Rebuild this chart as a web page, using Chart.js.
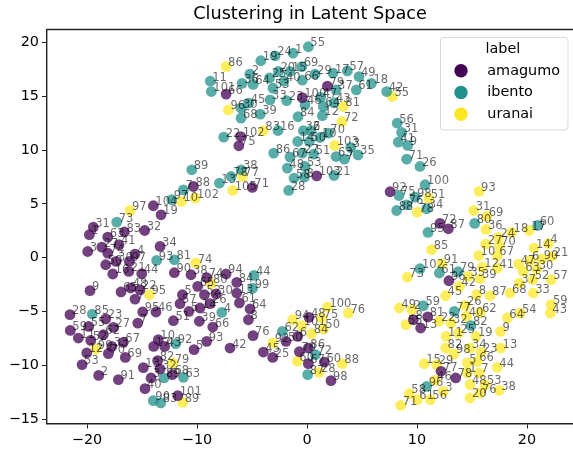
<!DOCTYPE html>
<html>
<head>
<meta charset="utf-8">
<title>Clustering in Latent Space</title>
<script src="https://cdn.jsdelivr.net/npm/chart.js@4"></script>
<style>
  html, body { margin: 0; padding: 0; background: #fff; }
  canvas { display: block; }
</style>
</head>
<body>
<canvas id="latent-chart" width="573" height="453"></canvas>
<script>
// ===== Data (x, y, annotation) =====
const seriesNames = ["amagumo", "ibento", "uranai"];
const seriesColors = ["#440154", "#21918c", "#fde725"];
const xTicks = [-20, -10, 0, 10, 20];
const yTicks = [-15, -10, -5, 0, 5, 10, 15, 20];

const amagumo = [
  [1.85,15.94,79],[-7.36,15.2,66],[-0.43,14.88,100],[-6.03,11.26,102],[-6.2,10.4,75],
  [0.88,7.6,103],[-4.97,6.53,71],[-10.33,6.62,88],[-13.97,4.83,104],[-13.27,3.99,19],
  [7.55,6.13,92],[12.09,3.19,72],[12.85,2.69,87],[12.9,-2.14,96],[10.97,-5.5,81],
  [9.67,-5.76,8],[10.33,-6.53,13],[12.18,-10.55,77],[13.52,-11.17,78],
  [-19.43,2.85,31],[-19.79,2.14,1],[-16.6,2.39,83],[-14.76,2.53,32],[-18.12,1.92,63],
  [-17.09,1.21,41],[-18.66,0.99,27],[-19.94,0.58,3],[-18.12,0.43,74],[-15.64,0.34,4],
  [-13.36,1.05,34],[-18.3,-0.65,50],[-17.36,-0.34,30],[-16.15,-0.34,97],[-17.66,-1.51,16],
  [-16.2,-1.27,21],[-15.03,-1.49,44],[-12.06,-1.39,90],[-10.55,-1.58,38],[-9.12,-1.85,74],
  [-9.94,-2.66,65],[-19.73,-3.06,9],[-16.91,-3.18,65],[-16.03,-2.81,48],[-15.18,-2.98,22],
  [-11.33,-3.44,5],[-9.33,-3.44,52],[-15.64,-3.84,7],[-11.55,-4.27,57],[-14.94,-5.04,95],
  [-13.73,-5.04,46],[-10.73,-4.98,5],[-9.73,-4.67,14],[-12.15,-5.85,51],[-9.79,-5.9,39],
  [-15.39,-6.07,7],[-21.55,-5.29,28],[-18.3,-5.69,23],[-19.85,-6.38,55],[-21.52,-6.75,59],
  [-17.6,-6.47,27],[-18.52,-7.15,62],[-20.79,-7.46,11],[-19.66,-7.68,52],[-16.7,-7.86,67],
  [-17.75,-8.24,33],[-20.03,-8.85,12],[-18.06,-8.91,70],[-16.52,-9.26,69],[-20.45,-9.93,53],
  [-18.94,-10.93,2],[-17.15,-11.33,91],[-13.52,-7.61,10],[-13.94,-8.24,17],[-12.94,-8.24,43],
  [-9.12,-7.77,93],[-10.27,-8.54,5],[-13.58,-9.56,82],[-14.88,-10.21,13],[-13.36,-10.34,32],
  [-12.24,-10.86,68],[-14.18,-11.17,3],[-14.73,-12.16,40],[-11.75,-12.81,101],
  [-7.36,-1.51,94],[-6.39,-2.29,84],[-6.39,-3.28,13],[-8.27,-3.37,30],[-8.82,-4.27,26],
  [-6.15,-4.2,61],[-5.18,-4.76,64],[-5.33,-5.76,8],[-8.57,-6.44,66],[-4.91,-7.24,76],
  [-7,-8.39,42],[-3.97,-8.76,45],[-3.12,-9.26,25],[-0.85,-7.3,6],[-1.91,-7.77,50],
  [0.18,-5.54,48],[-0.7,-8.73,70],[0.12,-8.39,86],[0.12,-9.84,67],[1.58,-9.69,60],[2.18,-11.42,98]
];

const ibento = [
  [0.12,19.6,55],[-1.27,19,1],[-2.9,18.76,24],[-4.2,18.3,19],[-0.48,17.76,69],[-5.2,17.06,2],
  [-3.4,16.7,25],[-2.6,17.3,20],[-1.55,17.3,15],[-2.1,16.4,40],[-5.9,16.2,36],[-4.9,16.1,64],
  [-3.1,15.75,53],[-0.43,16.5,66],[0.73,17.05,29],[2.36,17.15,17],[3.67,17.36,57],[4.73,16.83,49],
  [5.85,16.2,18],[4.48,15.6,61],[2.64,15.6,37],[-8.8,16.4,11],[-8.7,15.44,101],[-3.36,14.67,33],
  [-1.85,14.6,23],[-0.18,14.2,46],[1.25,14.9,47],[-5.3,14.36,45],[-6,13.9,30],[-6,12.97,68],
  [-4.25,13.34,39],[-0.82,13.1,84],[1.39,13.2,12],[1.48,14.05,64],[2.45,14.4,43],[1.94,11.58,70],
  [1.18,11.17,10],[-0.33,11.8,32],[0.36,11.8,6],[-0.85,10.8,14],[0.21,10.8,50],[-2.64,11.82,16],
  [-7.57,11.2,22],[3.97,10.24,3],[4.64,9.56,35],[2.64,9.4,63],[3.4,9.16,7],[-3.03,9.72,86],
  [-1.55,9.35,67],[-0.43,9.72,27],[0.6,9.63,51],[-6,8.17,38],[-7.97,6.93,13],[-6.9,7.55,78],
  [-1.79,8.33,48],[-0.18,8.48,53],[-1.18,7.4,58],[-0.24,7.5,8],[2.45,7.64,21],[-1.67,6.25,28],
  [7.24,15.44,42],[8.2,12.5,56],[8.6,11.64,31],[8.3,10.74,41],[9.15,10.43,9],[9.06,9.16,71],
  [10.27,8.48,26],[10.73,6.78,100],[8.36,5.78,75],[9.82,5.63,98],[9.06,4.92,76],[8.15,4.39,88],
  [10.88,4.55,34],[15.24,3.19,80],[11,2.35,95],[20.97,3,60],[10.27,-1.02,102],[12.03,-1.42,61],
  [13.73,-1.3,79],[10.58,-4.46,59],[13.39,-4.98,77],[14.9,-6.31,82],[10.88,-11.95,96],
  [-10.48,8.17,89],[-11.24,6.31,7],[-12.3,5.39,97],[-17.3,3.31,73],[-13.67,-0.25,93],[-12.06,-0.19,81],
  [-4.82,-1.64,44],[-4.94,-2.82,99],[-7.75,-5.08,4],[-2.24,-6.84,62],[0.76,-9,72],[0.06,-10.86,87],
  [-19.52,-5.23,85],[-11.94,-7.98,92],[-13,-11.17,89],[-11.24,-11.11,63],[-13.97,-13.28,90],[-13.3,-13.49,83]
];

const uranai = [
  [-7.36,17.76,86],[-7.15,13.74,96],[3.3,14.05,81],[3.18,12.66,72],[-3.97,11.8,83],[2.52,10.43,103],
  [-5.88,7.55,77],[-6.75,6.25,105],[7.76,14.98,55],[11.06,5.54,51],[10.03,4.24,78],[15.64,6.16,93],
  [15.15,4.39,31],[16.33,3.84,69],[16.27,2.63,36],[18.6,2.35,18],[20.2,2.53,17],[17.4,1.89,24],
  [16.24,1.27,27],[17.48,1.11,70],[21.94,1.3,4],[20.64,0.9,14],[11.33,0.74,85],[15.6,0.19,10],
  [17.3,0.19,67],[22.24,0.12,21],[20.27,-0.25,6],[21.33,-0.12,90],[19.24,-0.59,47],[12.24,-0.56,91],
  [15.94,-0.87,12],[17.3,-0.96,41],[20.88,-1.05,30],[19.66,-1.27,63],[9.12,-1.8,73],[14.67,-1.73,35],
  [15.73,-1.95,39],[20.52,-2.04,52],[22.2,-2.04,57],[19.3,-2.35,37],[13.85,-2.66,42],[18.45,-3.28,68],
  [20.57,-3.28,33],[12.6,-3.53,45],[15.43,-3.44,8],[16.64,-3.53,87],[8.39,-4.67,49],[9.52,-4.83,2],
  [14.36,-4.43,26],[15.73,-5.08,62],[14.52,-5.45,40],[19.36,-5.14,54],[18.21,-5.6,64],[22.18,-4.36,59],
  [22.12,-5.14,43],[9,-6.22,55],[12,-5.9,22],[13.09,-6.07,32],[13.76,-7,25],[12.64,-7.3,11],
  [15.36,-7.3,19],[17.6,-6.84,9],[12.6,-8.39,82],[13.36,-8.94,98],[14.82,-8.39,34],[15.82,-8.76,23],
  [17.6,-8.39,13],[15.48,-9.63,66],[14.57,-9.78,5],[17.3,-10.18,44],[10.66,-9.84,15],[11.79,-9.93,29],
  [14.57,-10.7,1],[15.66,-10.7,7],[11.64,-11.39,46],[14.82,-11.79,48],[16.18,-11.79,53],[12.39,-12.41,3],
  [15.73,-12.57,76],[17.48,-12.32,38],[9.3,-12.63,58],[10.03,-13.18,61],[11.21,-13.18,56],[14.82,-13.03,20],
  [8.52,-13.71,71],[1.85,-4.58,100],[3.76,-5.14,76],[-1.3,-5.76,94],[1.33,-5.6,75],[-0.48,-6.31,101],
  [1.48,-6.62,50],[0.42,-7.06,84],[-3.12,-7.92,92],[-0.88,-9.6,60],[3.21,-9.84,88],[1.09,-10.65,28],
  [-10.18,5.54,102],[-11.42,5.23,10],[-16.09,4.39,97],[-10.12,-0.49,74],[-8.73,-2.41,80],[-14.33,-3.44,95],
  [-19.2,-8.48,99],[-12.21,-9.78,79],[-11.3,-13.44,89]
];

const seriesPoints = [amagumo, ibento, uranai];
const FONT = "'DejaVu Sans', sans-serif";

function hexToRgba(hex, alpha) {
    const n = parseInt(hex.slice(1), 16);
    return "rgba(" + (n >> 16) + "," + ((n >> 8) & 255) + "," + (n & 255) + "," + alpha + ")";
}

// ===== Point annotations =====
const annotationPlugin = {
    id: "annotations",
    afterDatasetsDraw(chart) {
        const ctx = chart.ctx;
        ctx.save();
        ctx.font = "11.5px " + FONT;
        ctx.fillStyle = "rgba(0,0,0,0.6)";
        ctx.textBaseline = "alphabetic";
        seriesPoints.forEach((points, i) => {
            const meta = chart.getDatasetMeta(i);
            points.forEach((p, j) => {
                ctx.fillText(String(p[2]), meta.data[j].x + 2, meta.data[j].y - 0.5);
            });
        });
        ctx.restore();
    }
};

// Legend sits inside the plot, top right, with a matplotlib style frame.
// The library keeps marker and text too close, so the markers are drawn here.
const legendFramePlugin = {
    id: "legendFrame",
    afterLayout(chart) {
        const legend = chart.legend;
        legend.left = 458.4;
        legend.top = 38.7;
        legend.width = 89;
        legend.height = 92;
        legend.right = 573;
        legend.bottom = 300;
        legend.adjustHitBoxes();
    },
    beforeDraw(chart) {
        const ctx = chart.ctx;
        ctx.save();
        ctx.fillStyle = "#fff";
        ctx.strokeStyle = "#d9d9d9";
        ctx.lineWidth = 1;
        ctx.beginPath();
        ctx.roundRect(440.5, 37.5, 127.5, 92.5, 3);
        ctx.fill();
        ctx.stroke();
        ctx.restore();
    },
    beforeDatasetsDraw(chart) {
        const ctx = chart.ctx;
        const area = chart.chartArea;
        ctx.save();
        // top spine
        ctx.strokeStyle = "#222";
        ctx.lineWidth = 1.4;
        ctx.beginPath();
        ctx.moveTo(area.left, area.top);
        ctx.lineTo(area.right, area.top);
        ctx.stroke();
        // legend markers
        chart.legend.legendHitBoxes.forEach((box, i) => {
            ctx.fillStyle = seriesColors[i];
            ctx.beginPath();
            ctx.arc(461, box.top + box.height / 2, 6.7, 0, Math.PI * 2);
            ctx.fill();
        });
        ctx.restore();
    }
};

// ===== Chart =====
Chart.defaults.font.family = FONT;
Chart.defaults.color = "#000";

new Chart(document.getElementById("latent-chart"), {
    type: "scatter",
    data: {
        datasets: seriesNames.map((name, i) => ({
            label: name,
            data: seriesPoints[i].map(p => ({ x: p[0], y: p[1] })),
            backgroundColor: hexToRgba(seriesColors[i], 0.75),
            borderWidth: 0,
            pointRadius: 5.4,
            clip: false,
        })),
    },
    options: {
        responsive: false,
        animation: false,
        layout: { padding: 0, autoPadding: false },
        plugins: {
            tooltip: { enabled: false },
            title: {
                display: true,
                text: "Clustering in Latent Space",
                fullSize: false,
                font: { size: 17.7, weight: "normal" },
                color: "#000",
                padding: { top: 3.5, bottom: 4.8 },
            },
            legend: {
                position: "chartArea",
                align: "start",
                title: {
                    display: true,
                    text: "label",
                    color: "#000",
                    font: { size: 14.4 },
                    padding: { top: 3, bottom: -2.7 },
                },
                labels: {
                    usePointStyle: true,
                    boxHeight: 9.5,
                    padding: 7.3,
                    font: { size: 14.4 },
                    generateLabels: () => seriesNames.map((name, i) => ({
                        text: name,
                        fillStyle: "rgba(0,0,0,0)",
                        strokeStyle: "rgba(0,0,0,0)",
                        lineWidth: 0,
                        pointStyle: "circle",
                        datasetIndex: i,
                    })),
                },
            },
        },
        scales: {
            x: {
                type: "linear",
                min: -23.64,
                max: 24.18,
                afterBuildTicks: scale => { scale.ticks = xTicks.map(v => ({ value: v })); },
                afterFit: scale => {
                    scale.height = 29.5;
                    scale.paddingLeft = 0;
                    scale.paddingRight = 0;
                },
                grid: { display: true, drawOnChartArea: false, tickLength: 5, tickColor: "#222" },
                border: { color: "#222", width: 1.4 },
                ticks: {
                    padding: 3,
                    maxRotation: 0,
                    autoSkip: false,
                    font: { size: 14.4 },
                    callback: v => String(v).replace("-", "\u2212"),
                },
            },
            y: {
                type: "linear",
                min: -15.4,
                max: 21.2,
                afterBuildTicks: scale => { scale.ticks = yTicks.map(v => ({ value: v })); },
                afterFit: scale => {
                    scale.width = 47;
                    scale.paddingTop = 0;
                    scale.paddingBottom = 0;
                },
                grid: { display: true, drawOnChartArea: false, tickLength: 5, tickColor: "#222" },
                border: { color: "#222", width: 1.4 },
                ticks: {
                    padding: 3,
                    autoSkip: false,
                    font: { size: 14.4 },
                    callback: v => String(v).replace("-", "\u2212"),
                },
            },
        },
    },
    plugins: [annotationPlugin, legendFramePlugin],
});
</script>
</body>
</html>
